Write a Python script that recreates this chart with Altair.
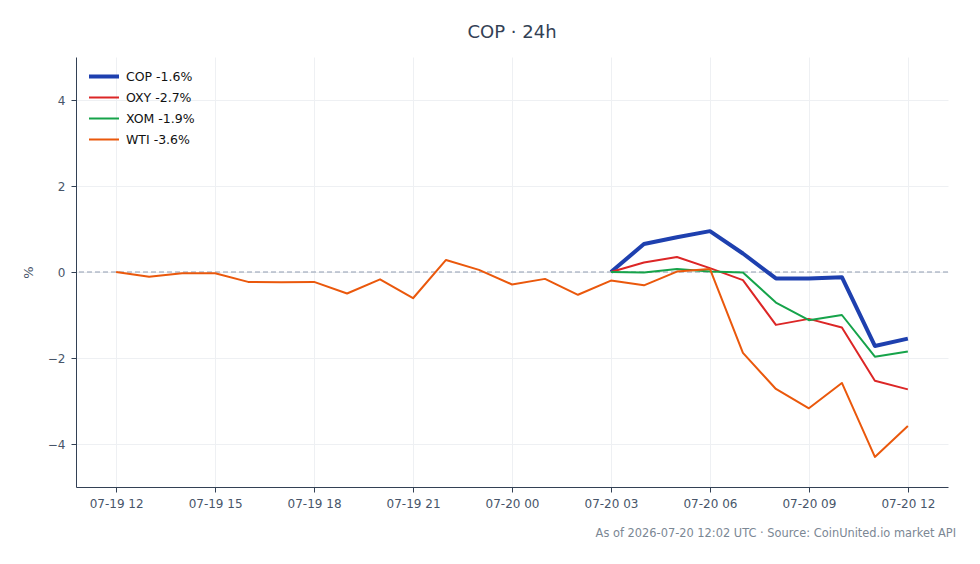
import altair as alt
import pandas as pd

# Hourly timestamps (UTC) covering the 24h window
hours = pd.date_range("2026-07-19 12:00", "2026-07-20 12:00", freq="h", tz="UTC")

# Percent change since window start; equities only trade from 07-20 03:00
wti = [0.00, -0.11, -0.03, -0.03, -0.23, -0.24, -0.23, -0.50, -0.17, -0.61,
       0.28, 0.05, -0.29, -0.16, -0.53, -0.20, -0.31, 0.01, 0.07, -1.88,
       -2.72, -3.17, -2.58, -4.30, -3.58]
cop = [None] * 15 + [0.00, 0.65, 0.81, 0.95, 0.43, -0.15, -0.15, -0.12, -1.72, -1.55]
oxy = [None] * 15 + [0.00, 0.22, 0.35, 0.09, -0.19, -1.23, -1.09, -1.29, -2.53, -2.73]
xom = [None] * 15 + [0.00, -0.01, 0.07, 0.01, -0.01, -0.71, -1.12, -1.00, -1.97, -1.85]

series = {"COP -1.6%": cop, "OXY -2.7%": oxy, "XOM -1.9%": xom, "WTI -3.6%": wti}
names = list(series.keys())
colors = ["#1e40af", "#dc2626", "#16a34a", "#ea580c"]
widths = [4, 2, 2, 2]

rows = []
for name, vals in series.items():
    for t, v in zip(hours, vals):
        if v is not None:
            rows.append({"t": t.isoformat(), "series": name, "pct": v})
df = pd.DataFrame(rows)


def ms(ts):
    return int(pd.Timestamp(ts, tz="UTC").value // 10**6)


x_domain = [ms("2026-07-19 10:47"), ms("2026-07-20 13:13")]
tick_vals = [ms(t) for t in pd.date_range("2026-07-19 12:00", "2026-07-20 12:00", freq="3h")]

W, H = 872, 430
FONT = "DejaVu Sans"

x = alt.X(
    "t:T",
    scale=alt.Scale(type="utc", domain=x_domain),
    axis=alt.Axis(
        title=None, values=tick_vals,
        labelExpr="utcFormat(datum.value, '%m-%d %H')",
        grid=True, gridColor="#eef0f3", tickSize=5, labelPadding=6,
        domainColor="#334155", tickColor="#334155", labelColor="#475569",
        labelFontSize=12, labelFont=FONT,
    ),
)
y = alt.Y(
    "pct:Q",
    scale=alt.Scale(domain=[-5, 5], nice=False),
    axis=alt.Axis(
        title="%", values=[-4, -2, 0, 2, 4], grid=True, gridColor="#eef0f3",
        tickSize=5, labelPadding=6, titlePadding=12, domainColor="#334155",
        tickColor="#334155", labelColor="#475569", titleColor="#475569",
        labelFontSize=12, titleFontSize=13, titleFontWeight="normal",
        labelFont=FONT, titleFont=FONT,
    ),
)

lines = alt.Chart(df).mark_line(strokeJoin="round").encode(
    x=x,
    y=y,
    color=alt.Color(
        "series:N",
        scale=alt.Scale(domain=names, range=colors),
        sort=names,
        legend=alt.Legend(
            title=None, orient="none", legendX=11, legendY=9,
            symbolType="stroke", symbolSize=900, clipHeight=21,
            labelFontSize=12.5, labelFont=FONT, labelColor="#111111",
            rowPadding=0, padding=0, labelOffset=5,
        ),
    ),
    strokeWidth=alt.StrokeWidth(
        "series:N", scale=alt.Scale(type="ordinal", domain=names, range=widths),
        sort=names,
    ),
)

zero = alt.Chart(pd.DataFrame({"z": [0]})).mark_rule(
    color="#8f9bb0", strokeDash=[5, 3], strokeWidth=1
).encode(y="z:Q")

footer = alt.Chart(pd.DataFrame({"s": ["As of 2026-07-20 12:02 UTC · Source: CoinUnited.io market API"]})).mark_text(
    align="right", baseline="alphabetic", fontSize=11.4, font=FONT, color="#7b8794"
).encode(text="s:N", x=alt.value(W + 8), y=alt.value(H + 50))

chart = (
    alt.layer(zero, lines, footer)
    .properties(
        width=W, height=H,
        title=alt.TitleParams("COP · 24h", fontSize=18, font=FONT, fontWeight="normal",
                              color="#334155", anchor="middle", offset=15),
        autosize=alt.AutoSizeParams(type="none"),
        padding={"left": 76, "top": 57, "right": 32, "bottom": 77},
    )
    .configure_view(stroke=None)
    .configure_axis(domainWidth=1)
)

chart.save("out.html", embed_options={"renderer": "svg", "actions": False})
